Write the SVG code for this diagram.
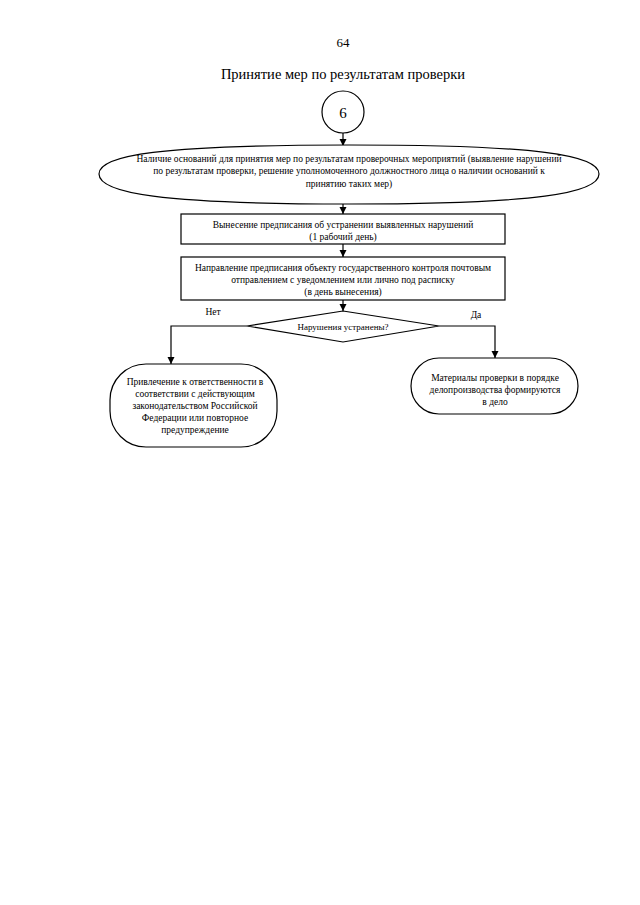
<svg xmlns="http://www.w3.org/2000/svg" width="640" height="905" viewBox="0 0 640 905">
<style>
.t{font-family:"Liberation Serif","Times New Roman",serif;fill:#000;text-anchor:middle}
.s{font-size:9.5px}
.shape{fill:#fff;stroke:#000;stroke-width:1.2}
.ln{fill:none;stroke:#000;stroke-width:1.2}
</style>
<defs>
<marker id="ah" markerWidth="8" markerHeight="8" refX="7" refY="4" orient="auto" markerUnits="userSpaceOnUse">
<path d="M0,0.5 L7,4 L0,7.5 Z" fill="#000"/>
</marker>
</defs>
<rect width="640" height="905" fill="#fff"/>
<text class="t" x="343" y="47" font-size="13">64</text>
<text class="t" x="343" y="79" font-size="14.5">Принятие мер по результатам проверки</text>

<g id="connectors">
<line class="ln" x1="343" y1="133" x2="343" y2="146" marker-end="url(#ah)"/>
<line class="ln" x1="343" y1="204" x2="343" y2="214" marker-end="url(#ah)"/>
<line class="ln" x1="343" y1="244" x2="343" y2="257" marker-end="url(#ah)"/>
<line class="ln" x1="343" y1="300" x2="343" y2="311" marker-end="url(#ah)"/>
<polyline class="ln" points="247,326 171,326 171,364" marker-end="url(#ah)"/>
<polyline class="ln" points="439,326 495,326 495,358" marker-end="url(#ah)"/>
<text class="t s" x="213" y="315">Нет</text>
<text class="t s" x="476" y="318">Да</text>
</g>

<g id="start">
<circle class="shape" cx="343" cy="112" r="21"/>
<text class="t" x="343" y="118" font-size="15">6</text>
</g>

<g id="grounds">
<path class="shape" d="M99,174 C99,155 160,145 349,145 C538,145 599,155 599,174 C599,193 538,204 349,204 C160,204 99,193 99,174 Z"/>
<text class="t s" x="349" y="162">Наличие оснований для принятия мер по результатам проверочных мероприятий (выявление нарушений</text>
<text class="t s" x="349" y="174">по результатам проверки, решение уполномоченного должностного лица о наличии оснований к</text>
<text class="t s" x="349" y="187">принятию таких мер)</text>
</g>

<g id="issue">
<rect class="shape" x="181" y="214" width="324" height="30"/>
<text class="t s" x="343" y="228">Вынесение предписания об устранении выявленных нарушений</text>
<text class="t s" x="343" y="240">(1 рабочий день)</text>
</g>

<g id="send">
<rect class="shape" x="181" y="257" width="324" height="43"/>
<text class="t s" x="343" y="271">Направление предписания объекту государственного контроля почтовым</text>
<text class="t s" x="343" y="283">отправлением с уведомлением или лично под расписку</text>
<text class="t s" x="343" y="295">(в день вынесения)</text>
</g>

<g id="decision">
<polygon class="shape" points="343,311 439,326 343,342 247,326"/>
<text class="t" x="343" y="330" font-size="9">Нарушения устранены?</text>
</g>

<g id="liability">
<rect class="shape" x="110" y="364" width="167" height="83" rx="36" ry="36"/>
<text class="t s" x="195" y="385">Привлечение к ответственности в</text>
<text class="t s" x="195" y="397">соответствии с действующим</text>
<text class="t s" x="195" y="409">законодательством Российской</text>
<text class="t s" x="195" y="421">Федерации или повторное</text>
<text class="t s" x="195" y="433">предупреждение</text>
</g>

<g id="archive">
<rect class="shape" x="411" y="358" width="167" height="56" rx="28" ry="28"/>
<text class="t s" x="495" y="381">Материалы проверки в порядке</text>
<text class="t s" x="495" y="393">делопроизводства формируются</text>
<text class="t s" x="495" y="405">в дело</text>
</g>
</svg>
